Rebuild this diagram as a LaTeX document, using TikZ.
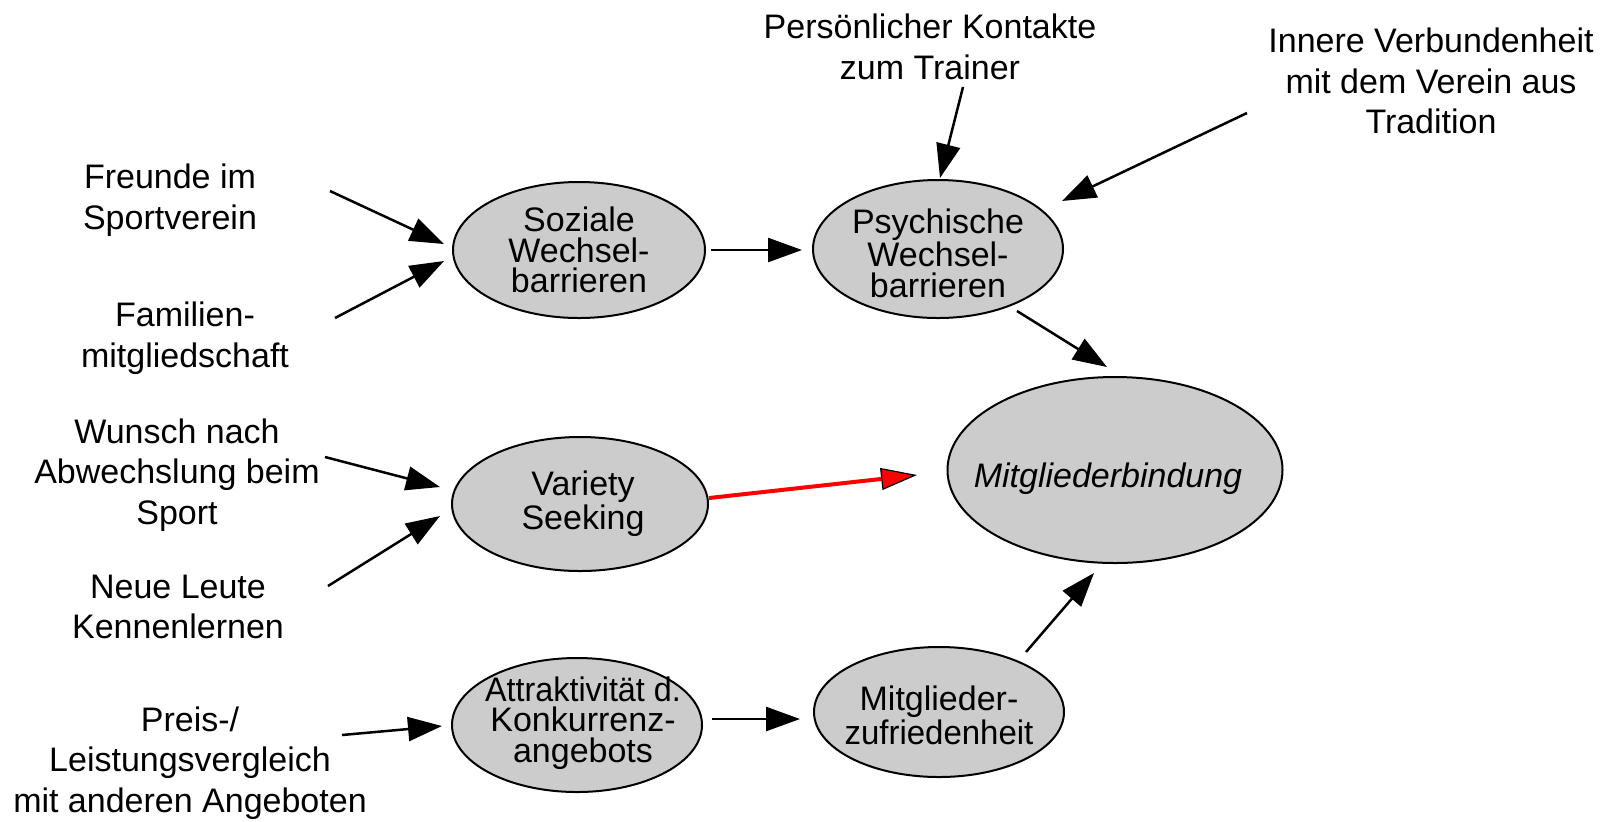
\documentclass[tikz,border=0pt]{standalone}
\usepackage{fontspec}
\setmainfont{Liberation Sans}
\usetikzlibrary{shapes.geometric,arrows.meta}
\definecolor{ellgray}{HTML}{CCCCCC}
\begin{document}
\begin{tikzpicture}[x=0.5pt,y=-0.5pt,
  ell/.style={ellipse,draw=black,line width=1pt,fill=ellgray,inner sep=0pt},
  etext/.style={align=center,inner sep=0pt,font=\fontsize{17pt}{15.2pt}\selectfont},
  lbl/.style={align=center,inner sep=0pt,font=\fontsize{17pt}{20.25pt}\selectfont},
  arr/.style={line width=1.25pt,-{Triangle[length=17pt,width=12pt]}},
  redarr/.style={red,line width=2pt,-{Triangle[length=18pt,width=11pt,color=black,fill=red,line width=0.6pt]}}]
\useasboundingbox (0,0) rectangle (1612,821);
% ellipses
\node[ell,minimum width=126pt,minimum height=68pt] (soz) at (579,250) {};
\node[ell,minimum width=125pt,minimum height=69pt] (psy) at (938,249) {};
\node[ell,minimum width=128pt,minimum height=67pt] (var) at (580,504) {};
\node[ell,minimum width=125pt,minimum height=67pt] (att) at (577,725) {};
\node[ell,minimum width=125pt,minimum height=65pt] (zuf) at (939,712) {};
\node[ell,minimum width=167.5pt,minimum height=93pt] (mgb) at (1115,470) {};
% ellipse texts
\node[etext] (sozt) at (579,250) {Soziale\\Wechsel-\\barrieren};
\node[etext] (psyt) at (938,253) {Psychische\\Wechsel-\\barrieren};
\node[etext] (vart) at (583,504) {Variety\\Seeking};
\node[etext] (attt) at (583,723) {\scalebox{0.95}[1]{Attraktivität d.}\\Konkurrenz-\\angebots};
\node[etext] (zuft) at (939,715) {Mitglieder-\\\scalebox{0.97}[1]{zufriedenheit}};
\node[etext,font=\fontsize{17pt}{15pt}\selectfont\itshape] (mgbt) at (1108,479) {Mitgliederbindung};
% labels
\node[lbl] (pk) at (930,47) {Persönlicher Kontakte\\zum Trainer};
\node[lbl] (iv) at (1431,81) {Innere Verbundenheit\\mit dem Verein aus\\Tradition};
\node[lbl] (fr) at (170,200) {Freunde im\\Sportverein};
\node[lbl] (fa) at (185,338) {Familien-\\mitgliedschaft};
\node[lbl] (wu) at (177,475) {Wunsch nach\\Abwechslung beim\\Sport};
\node[lbl] (ne) at (178,607) {Neue Leute\\Kennenlernen};
\node[lbl] (pr) at (190,763) {Preis-/\\Leistungsvergleich\\mit anderen Angeboten};
% connectors
\draw[arr] ([shift={(160,-9)}]fr.center) -- ([shift={(-135,-6)}]soz.center);
\draw[arr] ([shift={(150,-20)}]fa.center) -- ([shift={(-135,11)}]soz.center);
\draw[arr] ([shift={(132,0)}]soz.center) -- ([shift={(-136,1)}]psy.center);
\draw[arr] ([shift={(33,40)}]pk.center) -- ([shift={(2,-71)}]psy.center);
\draw[arr] ([shift={(-184,32)}]iv.center) -- ([shift={(124,-48)}]psy.center);
\draw[arr] ([shift={(79,62)}]psy.center) -- ([shift={(-8,-103)}]mgb.center);
\draw[arr] ([shift={(148,-18)}]wu.center) -- ([shift={(-140,-17)}]var.center);
\draw[arr] ([shift={(150,-21)}]ne.center) -- ([shift={(-140,12)}]var.center);
\draw[redarr] ([shift={(129,-6)}]var.center) -- ([shift={(-198,5)}]mgb.center);
\draw[arr] ([shift={(152,-28)}]pr.center) -- ([shift={(-135,1)}]att.center);
\draw[arr] ([shift={(135,-6)}]att.center) -- ([shift={(-139,7)}]zuf.center);
\draw[arr] ([shift={(87,-60)}]zuf.center) -- ([shift={(-21,103)}]mgb.center);
\end{tikzpicture}
\end{document}
